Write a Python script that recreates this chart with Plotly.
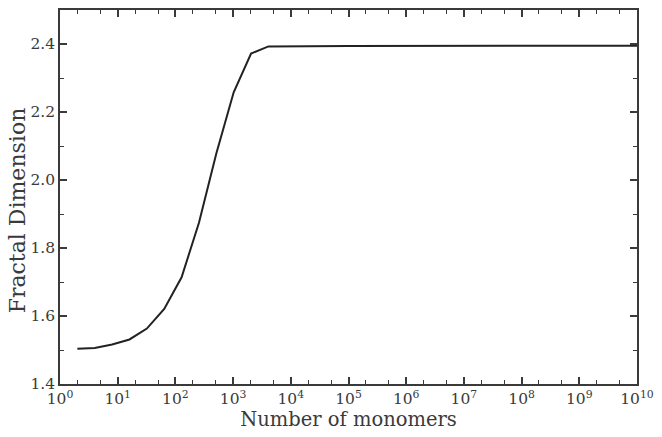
import plotly.graph_objects as go

monomers = [2, 4, 8, 16, 32, 64, 128, 256, 512, 1024, 2048, 4096, 1e5, 1e10]
fractal_dim = [1.504, 1.506, 1.516, 1.531, 1.563, 1.621, 1.714, 1.874, 2.078, 2.258, 2.372, 2.393, 2.394, 2.395]

x_tickvals = [10**i for i in range(0, 11)]
x_ticktext = ["10<sup>%d</sup>" % i for i in range(0, 11)]
y_tickvals = [1.4, 1.6, 1.8, 2.0, 2.2, 2.4]
y_ticktext = ["1.4", "1.6", "1.8", "2.0", "2.2", "2.4"]

font_family = "DejaVu Serif"
axis_color = "#3a3a3a"
text_color = "#3a3a3a"

fig = go.Figure()
fig.add_trace(go.Scatter(
    x=monomers, y=fractal_dim, mode="lines",
    line=dict(color="#222222", width=2),
    showlegend=False, hoverinfo="skip",
))

fig.update_layout(
    width=662, height=437,
    margin=dict(l=60, r=19, t=8, b=53),
    paper_bgcolor="white", plot_bgcolor="white",
    font=dict(family=font_family, color=text_color, size=15),
)
fig.add_annotation(
    text="Fractal Dimension", textangle=-90,
    xref="paper", yref="paper", x=(17 - 60) / 583, y=(384 - 209) / 376,
    xanchor="center", yanchor="middle", showarrow=False,
    font=dict(size=22, family=font_family, color=text_color),
)
fig.update_xaxes(
    type="log", range=[0, 10],
    tickvals=x_tickvals, ticktext=x_ticktext,
    ticks="inside", ticklen=7, tickwidth=1.5, tickcolor=axis_color,
    minor=dict(ticks="inside", ticklen=4, tickwidth=1, tickcolor=axis_color, showgrid=False),
    showline=True, linecolor=axis_color, linewidth=1.5, mirror="allticks",
    showgrid=False, zeroline=False,
    tickfont=dict(size=15.5, family=font_family, color=text_color),
    title=dict(text="Number of monomers", font=dict(size=19.5, family=font_family, color=text_color), standoff=0),
)
fig.update_yaxes(
    range=[1.4, 2.5],
    tickvals=y_tickvals, ticktext=y_ticktext,
    ticks="inside", ticklen=7, tickwidth=1.5, tickcolor=axis_color,
    minor=dict(ticks="inside", ticklen=4, tickwidth=1, tickcolor=axis_color, dtick=0.1, showgrid=False),
    showline=True, linecolor=axis_color, linewidth=1.5, mirror="allticks",
    showgrid=False, zeroline=False,
    tickfont=dict(size=15.5, family=font_family, color=text_color),
)

fig.write_html("out.html")
